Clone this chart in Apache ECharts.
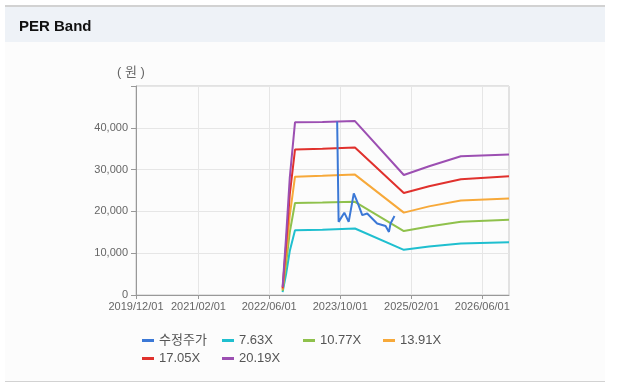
<!DOCTYPE html>
<html>
<head>
<meta charset="utf-8">
<script src="https://cdn.jsdelivr.net/npm/echarts@6/dist/echarts.min.js"></script>
<style>
  html, body { margin: 0; padding: 0; background: #fff; }
  #chart { width: 618px; height: 392px; }
</style>
</head>
<body>
<div id="chart"></div>
<script>
// PER band lines (dates shared by every band)
var bandDates = ['2022-09-01', '2022-09-25', '2022-10-20', '2022-11-25', '2023-06-01',
                 '2024-01-10', '2024-12-10', '2025-06-01', '2026-01-05', '2026-12-01'];
var per763  = [700,  5000, 10500, 15500, 15600, 15900, 10800, 11600, 12300, 12600];
var per1077 = [1000, 7500, 15000, 22000, 22100, 22300, 15300, 16400, 17500, 18000];
var per1391 = [1300, 9500, 19000, 28300, 28500, 28800, 19700, 21200, 22600, 23100];
var per1705 = [1600, 12000, 24000, 34800, 35000, 35300, 24400, 26000, 27700, 28400];
var per2019 = [1900, 14000, 28000, 41300, 41400, 41600, 28700, 30800, 33200, 33600];

// adjusted price
var priceDates = ['2023-09-10', '2023-09-20', '2023-10-29', '2023-11-28', '2024-01-02',
                  '2024-01-30', '2024-02-29', '2024-04-03', '2024-05-07', '2024-06-10',
                  '2024-08-07', '2024-08-30', '2024-09-10', '2024-10-07'];
var price = [41500, 17500, 19700, 17500, 24300, 21900, 19100, 19500, 18300, 17100,
             16500, 15100, 17100, 18900];

var xTicks = ['2019-12-01', '2021-02-01', '2022-06-01', '2023-10-01', '2025-02-01', '2026-06-01'];
var xStart = '2019-12-01', xEnd = '2026-12-01';

var names = ['수정주가', '7.63X', '10.77X', '13.91X', '17.05X', '20.19X'];
var colors = ['#3b78d6', '#1fbfcf', '#8fc14c', '#f7a93a', '#e0312d', '#9c4fb2'];

function ts(d) { return +echarts.time.parse(d); }
function pairs(dates, vals) {
  return dates.map(function (d, i) { return [ts(d), vals[i]]; });
}
var tickTimes = xTicks.map(ts);

var seriesData = [
  pairs(priceDates, price),
  pairs(bandDates, per763),
  pairs(bandDates, per1077),
  pairs(bandDates, per1391),
  pairs(bandDates, per1705),
  pairs(bandDates, per2019)
];

var font = "'Liberation Sans', 'Noto Sans CJK KR', sans-serif";
var legendLeft = [142, 222, 303, 383, 142, 222];
var legendTop = [334, 334, 334, 334, 352, 352];

var chart = echarts.init(document.getElementById('chart'));
chart.setOption({
  animation: false,
  textStyle: { fontFamily: font },
  title: {
    text: 'PER Band',
    left: 14, top: 14,
    textStyle: { fontSize: 15, fontWeight: 'bold', color: '#111', fontFamily: font }
  },
  graphic: [
    { type: 'rect', z: -10, shape: { x: 5, y: 6, width: 600, height: 376 }, style: { fill: '#fcfcfc' } },
    { type: 'rect', z: -9, shape: { x: 5, y: 6, width: 600, height: 36 }, style: { fill: '#eef2f7' } },
    { type: 'rect', z: -8, shape: { x: 5, y: 5, width: 600, height: 2 }, style: { fill: '#d2d2d2' } },
    { type: 'rect', z: -8, shape: { x: 5, y: 381, width: 600, height: 1 }, style: { fill: '#d2d2d2' } },
    { type: 'text', left: 117, top: 66, style: { text: '( 원 )', fill: '#666', font: '13px ' + font } }
  ],
  legend: names.map(function (n, i) {
    return {
      data: [n],
      left: legendLeft[i], top: legendTop[i],
      icon: 'rect', itemWidth: 12, itemHeight: 3, itemGap: 4,
      padding: 0,
      textStyle: { fontSize: 13, color: '#555' }
    };
  }),
  grid: {
    left: 136, right: 109, top: 86, bottom: 97,
    show: true, borderColor: '#c8c8c8', borderWidth: 1,
    containLabel: false
  },
  xAxis: {
    type: 'value',
    min: ts(xStart), max: ts(xEnd),
    axisLine: { lineStyle: { color: '#999' } },
    axisTick: { show: true, length: 4, lineStyle: { color: '#999' }, customValues: tickTimes },
    splitLine: { show: true, lineStyle: { color: '#e6e6e6' } },
    axisLabel: {
      customValues: tickTimes,
      color: '#666', fontSize: 11, margin: 6,
      formatter: function (v) { return echarts.time.format(v, '{yyyy}/{MM}/{dd}', false); }
    }
  },
  yAxis: {
    type: 'value',
    min: 0, max: 50000, interval: 10000,
    axisLine: { show: true, lineStyle: { color: '#999' } },
    axisTick: { show: true, length: 5, lineStyle: { color: '#999' } },
    splitLine: { lineStyle: { color: '#e6e6e6' } },
    axisLabel: {
      color: '#666', fontSize: 11, margin: 8,
      formatter: function (v) { return v >= 50000 ? '' : v.toLocaleString('en-US'); }
    }
  },
  series: names.map(function (n, i) {
    return {
      name: n, type: 'line', data: seriesData[i],
      showSymbol: false, symbol: 'none',
      z: i === 0 ? 10 : 2,
      lineStyle: { width: 2, color: colors[i] },
      itemStyle: { color: colors[i] }
    };
  })
});
</script>
</body>
</html>
